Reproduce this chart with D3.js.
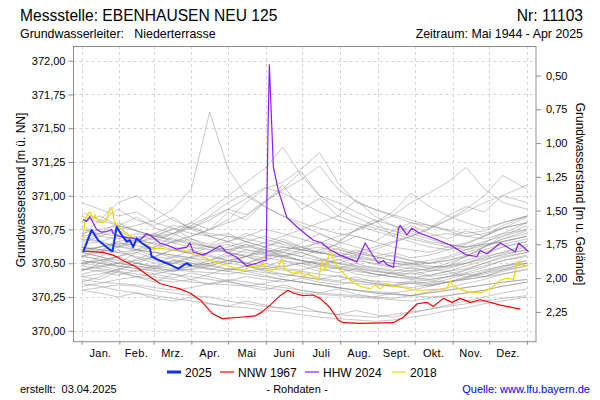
<!DOCTYPE html>
<html><head><meta charset="utf-8">
<script src="https://cdn.jsdelivr.net/npm/d3@7"></script>
<style>body{margin:0;background:#fff;} svg{display:block;font-family:"Liberation Sans",Arial,sans-serif;}</style>
</head><body><svg id="c" width="600" height="400"></svg>
<script>
// ---- data ----
const monthLabels = ["Jan.","Feb.","Mrz.","Apr.","Mai","Juni","Juli","Aug.","Sept.","Okt.","Nov.","Dez."];
const monthStartDays = [0,31,59,90,120,151,181,212,243,273,304,334,365];
const leftTicks = [370.00,370.25,370.50,370.75,371.00,371.25,371.50,371.75,372.00];
const rightTicks = [0.50,0.75,1.00,1.25,1.50,1.75,2.00,2.25];
const groundLevel = 372.39;

const grayDays = [0,15,30,45,60,75,90,105,120,135,150,165,180,195,210,225,240,255,270,285,300,315,330,345,365];
const grayYears = [
 [370.95,370.90,370.85,370.88,370.80,370.76,370.72,370.70,370.66,370.62,370.60,370.58,370.55,370.52,370.50,370.48,370.47,370.45,370.44,370.46,370.50,370.55,370.62,370.70,370.78],
 [370.80,370.85,370.78,370.74,370.70,370.72,370.66,370.62,370.58,370.64,370.60,370.55,370.52,370.50,370.47,370.45,370.42,370.40,370.38,370.37,370.36,370.38,370.40,370.44,370.48],
 [370.70,370.72,370.75,370.78,370.82,370.90,371.05,371.62,371.20,371.00,370.92,370.85,370.80,370.76,370.72,370.70,370.66,370.62,370.60,370.58,370.62,370.65,370.70,370.78,370.85],
 [370.60,370.62,370.65,370.63,370.60,370.66,370.70,370.75,370.82,370.95,371.05,371.10,371.20,371.32,371.10,370.95,370.90,370.85,370.80,370.78,370.75,370.72,370.74,370.80,370.85],
 [370.55,370.58,370.62,370.65,370.70,370.75,370.80,370.90,371.00,371.10,371.20,371.36,371.15,371.00,370.95,370.88,370.82,370.78,370.74,370.70,370.72,370.70,370.68,370.72,370.75],
 [370.50,370.52,370.48,370.46,370.45,370.44,370.46,370.50,370.55,370.60,370.58,370.62,370.60,370.58,370.65,370.75,370.80,370.85,370.95,371.02,371.10,371.21,371.05,370.95,370.90],
 [370.62,370.60,370.58,370.55,370.52,370.50,370.48,370.50,370.52,370.50,370.48,370.46,370.45,370.48,370.52,370.56,370.60,370.65,370.70,370.75,370.82,370.90,371.00,371.15,371.05],
 [370.35,370.33,370.30,370.28,370.26,370.24,370.22,370.20,370.18,370.17,370.15,370.14,370.12,370.10,370.09,370.08,370.07,370.08,370.10,370.12,370.15,370.17,370.20,370.22,370.25],
 [370.30,370.32,370.34,370.33,370.30,370.28,370.26,370.25,370.22,370.20,370.18,370.17,370.15,370.14,370.12,370.11,370.10,370.12,370.14,370.16,370.18,370.20,370.22,370.24,370.26],
 [370.45,370.48,370.50,370.52,370.55,370.53,370.50,370.48,370.46,370.45,370.43,370.42,370.40,370.38,370.36,370.35,370.34,370.33,370.32,370.34,370.36,370.38,370.40,370.42,370.45],
 [370.55,370.60,370.63,370.60,370.58,370.56,370.54,370.52,370.50,370.48,370.46,370.45,370.44,370.42,370.40,370.38,370.37,370.36,370.35,370.36,370.40,370.45,370.50,370.55,370.58],
 [370.65,370.70,370.68,370.72,370.70,370.67,370.64,370.62,370.60,370.58,370.56,370.55,370.60,370.62,370.58,370.55,370.52,370.50,370.48,370.47,370.48,370.50,370.55,370.58,370.62],
 [370.85,370.80,370.90,370.82,370.78,370.84,370.75,370.70,370.72,370.66,370.62,370.68,370.62,370.58,370.55,370.60,370.55,370.52,370.50,370.52,370.55,370.60,370.65,370.72,370.80],
 [370.40,370.42,370.45,370.50,370.55,370.60,370.58,370.55,370.52,370.50,370.55,370.60,370.58,370.54,370.50,370.47,370.44,370.42,370.40,370.38,370.40,370.42,370.45,370.48,370.50],
 [370.75,370.72,370.70,370.66,370.65,370.62,370.60,370.63,370.66,370.70,370.75,370.72,370.68,370.64,370.60,370.57,370.55,370.52,370.50,370.48,370.47,370.50,370.53,370.56,370.60],
 [370.50,370.52,370.55,370.58,370.62,370.70,370.78,370.85,370.95,371.02,370.92,370.85,370.78,370.72,370.66,370.62,370.58,370.55,370.52,370.50,370.52,370.55,370.58,370.62,370.66],
 [370.45,370.47,370.50,370.48,370.46,370.50,370.55,370.58,370.60,370.62,370.65,370.70,370.75,370.80,370.85,370.97,370.85,370.78,370.72,370.68,370.64,370.62,370.64,370.66,370.70],
 [370.58,370.55,370.52,370.50,370.48,370.46,370.45,370.48,370.52,370.55,370.58,370.60,370.62,370.65,370.70,370.74,370.80,370.88,371.02,370.92,370.85,370.80,370.76,370.80,370.85],
 [370.38,370.36,370.35,370.34,370.32,370.30,370.32,370.35,370.38,370.36,370.34,370.32,370.30,370.28,370.27,370.26,370.25,370.24,370.26,370.28,370.30,370.32,370.34,370.36,370.38],
 [370.68,370.66,370.62,370.60,370.58,370.56,370.54,370.58,370.62,370.66,370.70,370.66,370.62,370.58,370.55,370.52,370.50,370.48,370.46,370.45,370.44,370.46,370.50,370.54,370.58],
 [370.52,370.50,370.48,370.46,370.44,370.42,370.40,370.38,370.36,370.34,370.32,370.30,370.28,370.27,370.26,370.25,370.24,370.23,370.22,370.24,370.26,370.28,370.30,370.33,370.36],
 [370.60,370.62,370.64,370.66,370.68,370.72,370.76,370.82,370.90,370.98,371.06,371.02,370.95,370.88,370.82,370.78,370.74,370.70,370.66,370.62,370.60,370.62,370.66,370.70,370.75],
 [370.72,370.75,370.78,370.74,370.70,370.68,370.65,370.62,370.64,370.60,370.57,370.54,370.52,370.50,370.48,370.46,370.44,370.43,370.42,370.44,370.48,370.55,370.62,370.68,370.72],
 [370.42,370.45,370.43,370.40,370.38,370.36,370.38,370.42,370.46,370.44,370.41,370.38,370.36,370.34,370.32,370.30,370.29,370.28,370.30,370.33,370.36,370.40,370.44,370.48,370.52],
 [370.55,370.53,370.50,370.48,370.46,370.45,370.44,370.43,370.42,370.44,370.46,370.48,370.50,370.52,370.55,370.58,370.62,370.66,370.70,370.76,370.82,370.88,370.95,371.00,370.95],
 [370.33,370.35,370.38,370.40,370.42,370.45,370.48,370.46,370.44,370.42,370.40,370.38,370.36,370.34,370.32,370.30,370.28,370.27,370.26,370.28,370.30,370.32,370.34,370.36,370.38],
 [370.70,370.82,370.95,371.00,370.90,370.82,370.76,370.72,370.70,370.68,370.65,370.62,370.60,370.58,370.56,370.54,370.52,370.50,370.49,370.50,370.52,370.56,370.60,370.64,370.68],
 [370.62,370.60,370.58,370.60,370.62,370.66,370.70,370.75,370.80,370.85,370.95,371.05,371.18,371.00,370.90,370.84,370.78,370.74,370.70,370.66,370.64,370.62,370.64,370.66,370.70],
 [370.48,370.46,370.44,370.42,370.40,370.38,370.36,370.35,370.34,370.33,370.35,370.38,370.36,370.34,370.32,370.30,370.28,370.27,370.26,370.25,370.26,370.28,370.30,370.33,370.36],
 [370.58,370.62,370.66,370.70,370.68,370.65,370.62,370.60,370.58,370.56,370.54,370.52,370.50,370.48,370.46,370.44,370.42,370.40,370.39,370.38,370.40,370.43,370.47,370.52,370.56],
 [370.62,370.58,370.66,370.60,370.55,370.60,370.57,370.52,370.56,370.50,370.47,370.52,370.48,370.44,370.47,370.42,370.40,370.43,370.39,370.41,370.44,370.48,370.52,370.57,370.60],
 [370.48,370.55,370.50,370.58,370.53,370.50,370.54,370.49,370.45,370.48,370.44,370.40,370.43,370.39,370.37,370.40,370.36,370.34,370.37,370.35,370.38,370.42,370.40,370.45,370.50],
 [370.78,370.70,370.74,370.68,370.72,370.65,370.68,370.62,370.60,370.64,370.58,370.55,370.58,370.53,370.50,370.54,370.49,370.47,370.50,370.46,370.48,370.52,370.56,370.62,370.66],
 [370.40,370.38,370.44,370.40,370.36,370.42,370.38,370.34,370.37,370.33,370.30,370.34,370.30,370.28,370.31,370.27,370.25,370.28,370.26,370.29,370.32,370.35,370.38,370.42,370.46],
 [370.66,370.72,370.80,370.74,370.70,370.76,370.68,370.64,370.70,370.66,370.62,370.66,370.60,370.57,370.61,370.56,370.53,370.56,370.52,370.50,370.54,370.58,370.62,370.68,370.74],
 [370.56,370.52,370.55,370.50,370.47,370.52,370.48,370.45,370.50,370.55,370.60,370.56,370.52,370.49,370.53,370.48,370.45,370.42,370.45,370.41,370.44,370.40,370.43,370.47,370.52],
 [370.50,370.48,370.45,370.50,370.47,370.44,370.48,370.52,370.58,370.55,370.62,370.58,370.65,370.72,370.66,370.75,370.82,370.70,370.78,370.72,370.68,370.74,370.70,370.76,370.80],
 [370.88,370.82,370.78,370.84,370.76,370.72,370.78,370.70,370.66,370.72,370.68,370.64,370.60,370.66,370.62,370.58,370.55,370.58,370.54,370.56,370.60,370.64,370.70,370.76,370.84],
 [370.30,370.28,370.25,370.28,370.24,370.22,370.25,370.20,370.18,370.22,370.19,370.16,370.18,370.14,370.12,370.15,370.12,370.10,370.13,370.16,370.19,370.22,370.25,370.28,370.31],
 [370.58,370.55,370.60,370.54,370.50,370.55,370.52,370.48,370.52,370.50,370.54,370.58,370.55,370.60,370.64,370.70,370.66,370.74,370.80,370.76,370.85,370.92,370.88,371.00,371.08],
 [370.44,370.50,370.47,370.53,370.58,370.54,370.60,370.56,370.52,370.55,370.50,370.47,370.50,370.46,370.43,370.46,370.42,370.40,370.43,370.40,370.42,370.45,370.48,370.52,370.55],
 [370.52,370.50,370.55,370.60,370.66,370.72,370.80,370.75,370.88,370.82,370.95,371.08,370.90,370.98,370.85,370.80,370.76,370.72,370.68,370.65,370.62,370.60,370.63,370.66,370.70],
 [370.70,370.66,370.62,370.68,370.64,370.60,370.57,370.62,370.58,370.55,370.52,370.56,370.52,370.49,370.46,370.50,370.46,370.44,370.47,370.44,370.46,370.50,370.54,370.58,370.64],
 [370.36,370.40,370.46,370.44,370.48,370.52,370.50,370.46,370.44,370.48,370.45,370.42,370.40,370.38,370.41,370.37,370.35,370.33,370.35,370.33,370.36,370.39,370.42,370.45,370.48],
 [370.64,370.66,370.70,370.68,370.72,370.78,370.76,370.84,370.90,370.86,370.96,371.04,371.12,371.22,371.05,370.96,370.90,370.86,370.82,370.78,370.74,370.70,370.72,370.76,370.80],
 [370.46,370.44,370.41,370.45,370.42,370.39,370.43,370.40,370.37,370.40,370.38,370.36,370.39,370.36,370.34,370.37,370.35,370.33,370.36,370.34,370.36,370.39,370.43,370.46,370.50]
];

const days2025 = [1.3,8.2,13.6,23.2,25.4,28.7,32.8,36.9,39.6,42.3,45.1,49.2,56,57.4,64.2,72.4,79.2,86.1,90.2];
const vals2025 = [370.585,370.746,370.67,370.60,370.59,370.77,370.71,370.66,370.67,370.62,370.685,370.65,370.61,370.55,370.52,370.49,370.46,370.50,370.48];

const daysNNW = [1.3,17.7,25.9,34.1,45.1,56,64.2,72.4,80.6,88.8,97,106.9,115.1,129.9,142.2,147.9,154.5,162.7,169.2,173.3,181.5,189.7,195.5,203.7,210.3,214.4,228.3,255.4,263.6,275.1,283.3,288.2,296.4,303.8,310.3,318.5,326.7,343.2,359.6];
const valsNNW = [370.59,370.58,370.56,370.52,370.47,370.40,370.35,370.33,370.31,370.28,370.23,370.13,370.09,370.10,370.11,370.14,370.19,370.26,370.30,370.28,370.26,370.265,370.24,370.17,370.08,370.06,370.055,370.06,370.10,370.20,370.21,370.18,370.24,370.21,370.24,370.21,370.23,370.19,370.16];

const daysHHW = [1.3,4.1,6.8,9.5,12.3,16.4,20.5,24.6,25.9,31.4,36.9,42.3,47.8,53.3,57.4,64.2,69.7,77.9,86.1,88.8,91.5,99.8,108,113.5,119,127.2,135.4,143.6,149,151.2,152.8,153.9,157.2,161.3,168.2,176.4,181.8,190,196.9,203.7,211.9,225.6,232.4,239.2,243.3,247.4,250.2,255.6,259.7,261.1,266.6,270.7,277.5,288.4,302.1,315.8,324,326.7,332.2,343.2,348.7,355.5,358.2,366.4];
const valsHHW = [370.825,370.81,370.845,370.80,370.75,370.73,370.735,370.75,370.72,370.70,370.69,370.685,370.67,370.72,370.70,370.65,370.635,370.605,370.62,370.65,370.585,370.56,370.60,370.63,370.58,370.545,370.48,370.50,370.52,370.52,371.50,371.97,371.21,371.04,370.84,370.77,370.73,370.67,370.65,370.60,370.56,370.51,370.65,370.55,370.50,370.52,370.49,370.47,370.76,370.78,370.71,370.76,370.72,370.685,370.635,370.56,370.55,370.595,370.57,370.65,370.62,370.585,370.65,370.585];

const days2018 = [1.3,2.7,5.4,6.8,9.5,10.9,13.6,17.7,20.5,23.2,24.6,27.3,31.4,36.9,43.7,50.5,58.7,64.2,72.4,80.6,88.8,99.8,108,119,127.2,132.6,138.1,143.6,149,151.8,157.2,161.3,164.1,166.8,173.6,179.1,181.8,185.9,190,194.1,196.9,199.6,203.7,207.8,211.9,220.1,228.3,236.5,240.6,244.7,250.2,255.6,263.8,274.8,288.4,299.4,302.1,304.8,315.8,326.7,334.9,343.2,348.7,354.1,356.8,359.6,362.3,366.4];
const vals2018 = [370.685,370.81,370.87,370.88,370.83,370.86,370.81,370.80,370.82,370.91,370.91,370.80,370.76,370.72,370.685,370.65,370.61,370.61,370.60,370.60,370.585,370.55,370.51,370.485,370.46,370.44,370.48,370.47,370.50,370.45,370.45,370.47,370.535,370.45,370.425,370.44,370.40,370.425,370.40,370.375,370.52,370.45,370.60,370.50,370.45,370.375,370.33,370.31,370.34,370.31,370.35,370.33,370.32,370.30,370.305,370.31,370.37,370.33,370.29,370.28,370.31,370.375,370.39,370.38,370.51,370.51,370.48,370.48];

const legendItems = [
 {label:"2025", color:"#1030ff", width:3},
 {label:"NNW 1967", color:"#ff0000", width:1.2},
 {label:"HHW 2024", color:"#8a1cff", width:1.2},
 {label:"2018", color:"#f2d800", width:1.2}
];

// ---- drawing ----
const svg = d3.select("#c");
const L = 73.5, R = 536, T = 46, B = 341.7;
const x = d3.scaleLinear().domain([-6.6, 372.4]).range([L, R]);
const y = d3.scaleLinear().domain([369.919, 372.109]).range([B, T]);
const yR = d3.scaleLinear().domain([groundLevel - 369.919, groundLevel - 372.109]).range([B, T]);
const fmt = d => d.toFixed(2).replace(".", ",");

// grid
const grid = svg.append("g").attr("stroke", "#d4d4d4").attr("stroke-dasharray", "3,3").attr("stroke-width", 1);
grid.selectAll("line.h").data(leftTicks).join("line")
  .attr("x1", L).attr("x2", R).attr("y1", d => Math.round(y(d)) + 0.5).attr("y2", d => Math.round(y(d)) + 0.5);
grid.selectAll("line.v").data(monthStartDays).join("line")
  .attr("y1", T).attr("y2", B).attr("x1", d => Math.round(x(d)) + 0.5).attr("x2", d => Math.round(x(d)) + 0.5);

// clip
svg.append("clipPath").attr("id", "pc").append("rect").attr("x", L).attr("y", T).attr("width", R - L).attr("height", B - T);
const plot = svg.append("g").attr("clip-path", "url(#pc)");
const line = d3.line().x(d => x(d[0])).y(d => y(d[1]));

plot.append("g").selectAll("path").data(grayYears).join("path")
  .attr("d", vals => line(vals.map((v, i) => [grayDays[i], v])))
  .attr("fill", "none").attr("stroke", "#8c8c8c").attr("stroke-opacity", 0.6).attr("stroke-width", 0.8);

const colored = [
 {days: days2018, vals: vals2018, item: legendItems[3]},
 {days: daysHHW, vals: valsHHW, item: legendItems[2]},
 {days: daysNNW, vals: valsNNW, item: legendItems[1]},
 {days: days2025, vals: vals2025, item: {color: legendItems[0].color, width: 2}}
];
plot.append("g").selectAll("path").data(colored).join("path")
  .attr("d", s => line(s.days.map((dd, i) => [dd, s.vals[i]])))
  .attr("fill", "none").attr("stroke", s => s.item.color).attr("stroke-width", s => s.item.width)
  .attr("stroke-linejoin", "round");

// frame
svg.append("rect").attr("x", L).attr("y", T + 0.5).attr("width", R - L).attr("height", B - T - 0.5)
  .attr("fill", "none").attr("stroke", "#8c8c8c").attr("stroke-width", 1);

// axes
const axL = svg.append("g").attr("transform", `translate(${L},0)`)
  .call(d3.axisLeft(y).tickValues(leftTicks).tickFormat(fmt).tickSize(5).tickPadding(3));
const axR = svg.append("g").attr("transform", `translate(${R},0)`)
  .call(d3.axisRight(yR).tickValues(rightTicks).tickFormat(fmt).tickSize(5).tickPadding(5));
const axB = svg.append("g").attr("transform", `translate(0,${B})`)
  .call(d3.axisBottom(x).tickValues(monthStartDays).tickFormat("").tickSize(3));
[axL, axR, axB].forEach(a => {
  a.select(".domain").remove();
  a.selectAll(".tick line").attr("stroke", "#8c8c8c");
  a.selectAll("text").attr("font-size", 11).attr("font-family", "Liberation Sans, Arial, sans-serif").attr("fill", "#000");
});

// month labels
svg.append("g").selectAll("text").data(monthLabels).join("text")
  .attr("x", (d, i) => x((monthStartDays[i] + monthStartDays[i + 1]) / 2))
  .attr("y", 357).attr("text-anchor", "middle").attr("font-size", 11).attr("letter-spacing", 0.3).text(d => d);

// axis titles
svg.append("text").attr("transform", "translate(25,190) rotate(-90)").attr("text-anchor", "middle")
  .attr("font-size", 12).text("Grundwasserstand [m ü. NN]");
svg.append("text").attr("transform", "translate(576,194) rotate(90)").attr("text-anchor", "middle")
  .attr("font-size", 12).text("Grundwasserstand [m u. Gelände]");

// header
svg.append("text").attr("x", 20).attr("y", 21).attr("font-size", 15.6).text("Messstelle: EBENHAUSEN NEU 125");
svg.append("text").attr("x", 583).attr("y", 21).attr("font-size", 15.6).attr("text-anchor", "end").text("Nr: 11103");
svg.append("text").attr("x", 20).attr("y", 38).attr("font-size", 12.4).attr("xml:space", "preserve").text("Grundwasserleiter:   Niederterrasse");
svg.append("text").attr("x", 583).attr("y", 38).attr("font-size", 12.4).attr("text-anchor", "end").text("Zeitraum: Mai 1944 - Apr 2025");

// legend
const legendX = [167, 220, 305, 392];
const lg = svg.append("g").selectAll("g").data(legendItems).join("g")
  .attr("transform", (d, i) => `translate(${legendX[i]},372)`);
lg.append("line").attr("x1", 0).attr("x2", 14).attr("stroke", d => d.color).attr("stroke-width", d => d.width);
lg.append("text").attr("x", 18).attr("y", 4.5).attr("font-size", 12).text(d => d.label);

// footer
svg.append("text").attr("x", 20).attr("y", 393).attr("font-size", 11).attr("xml:space", "preserve").text("erstellt:  03.04.2025");
svg.append("text").attr("x", 297).attr("y", 393).attr("font-size", 11).attr("text-anchor", "middle").text("- Rohdaten -");
svg.append("text").attr("x", 590).attr("y", 393).attr("font-size", 11).attr("text-anchor", "end").attr("fill", "#0000ff").text("Quelle: www.lfu.bayern.de");
</script></body></html>
